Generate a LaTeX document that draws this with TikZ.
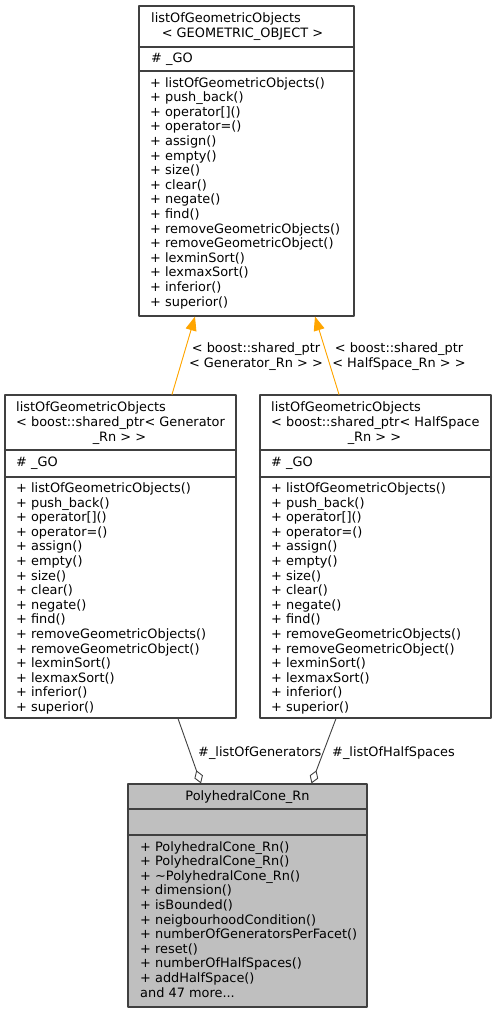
\documentclass[tikz,border=0pt]{standalone}
\usepackage{fontspec}
\setmainfont{DejaVu Sans}
\usetikzlibrary{arrows.meta}
\definecolor{boxline}{HTML}{404040}
\definecolor{conegray}{HTML}{BFBFBF}
\definecolor{inhorange}{HTML}{FFA500}
% members shared by the three template boxes
\newcommand\gomembers{+ listOfGeometricObjects()\\+ push\_back()\\+ operator[]()\\+ operator=()\\+ assign()\\+ empty()\\+ size()\\+ clear()\\+ negate()\\+ find()\\+ removeGeometricObjects()\\+ removeGeometricObject()\\+ lexminSort()\\+ lexmaxSort()\\+ inferior()\\+ superior()}
\begin{document}
\begin{tikzpicture}
    [x=1pt,y=-1pt,line cap=round,line join=round,
     font=\fontsize{12.9}{14.6}\selectfont,
     classbox/.style={draw=boxline,line width=1.1pt,inner sep=0pt,fill=white},
     memb/.style={anchor=base west,align=left,inner sep=0pt},
     ctext/.style={anchor=base,align=center,inner sep=0pt},
     inherit/.style={-{Triangle[length=14pt,width=11pt]},draw=inhorange,fill=inhorange,line width=0.9pt},
     aggr/.style={{Diamond[open,length=14pt,width=9pt]}-,draw=boxline,fill=white,line width=0.9pt}]
\useasboundingbox (0,0) rectangle (496,1013);
%the class boxes
\node[classbox,minimum width=215pt,minimum height=310pt] (base) at (246.5,161) {};
\node[classbox,minimum width=231pt,minimum height=323pt] (gen) at (120.5,556.5) {};
\node[classbox,minimum width=231pt,minimum height=323pt] (half) at (375.5,556.5) {};
\node[classbox,fill=conegray,minimum width=239pt,minimum height=223pt] (cone) at (247.5,895.5) {};
%compartment lines
\draw[boxline,line width=1.1pt] (base.west |- 0,47) -- (base.east |- 0,47);
\draw[boxline,line width=1.1pt] (base.west |- 0,71) -- (base.east |- 0,71);
\draw[boxline,line width=1.1pt] (gen.west |- 0,450) -- (gen.east |- 0,450);
\draw[boxline,line width=1.1pt] (gen.west |- 0,477) -- (gen.east |- 0,477);
\draw[boxline,line width=1.1pt] (half.west |- 0,450) -- (half.east |- 0,450);
\draw[boxline,line width=1.1pt] (half.west |- 0,477) -- (half.east |- 0,477);
\draw[boxline,line width=1.1pt] (cone.west |- 0,809) -- (cone.east |- 0,809);
\draw[boxline,line width=1.1pt] (cone.west |- 0,835) -- (cone.east |- 0,835);
%texts of listOfGeometricObjects< GEOMETRIC_OBJECT >
%(multi-line nodes sit on their last baseline)
\node[memb] (basetitle) at (151,22.7) {listOfGeometricObjects};
\node[ctext] (basetype) at (242.5,37.5) {< GEOMETRIC\_OBJECT >};
\node[memb] (baseattr) at (151,62.7) {\# \_GO};
\node[memb] (baseops) at (150,306) {\gomembers};
%texts of the Generator_Rn box
\node[memb] (gentitle) at (16,426.3) {listOfGeometricObjects\\< boost::shared\_ptr< Generator};
\node[ctext] (gentype) at (119.5,441) {\_Rn > >};
\node[memb] (genattr) at (16,466) {\# \_GO};
\node[memb] (genops) at (16,711.5) {\gomembers};
%texts of the HalfSpace_Rn box
\node[memb] (halftitle) at (271,426.3) {listOfGeometricObjects\\< boost::shared\_ptr< HalfSpace};
\node[ctext] (halftype) at (374.5,441) {\_Rn > >};
\node[memb] (halfattr) at (271,466) {\# \_GO};
\node[memb] (halfops) at (271,711.5) {\gomembers};
%texts of PolyhedralCone_Rn
\node[ctext] (conetitle) at (247.5,800.7) {PolyhedralCone\_Rn};
\node[memb] (coneops) at (140,997) {+ PolyhedralCone\_Rn()\\+ PolyhedralCone\_Rn()\\+ \textasciitilde PolyhedralCone\_Rn()\\+ dimension()\\+ isBounded()\\+ neigbourhoodCondition()\\+ numberOfGeneratorsPerFacet()\\+ reset()\\+ numberOfHalfSpaces()\\+ addHalfSpace()\\and 47 more...};
%template inheritance
\draw[inherit] ([xshift=51.5pt]gen.north) -- ([xshift=-51.5pt]base.south);
\draw[inherit] ([xshift=-36.5pt]half.north) -- ([xshift=68.5pt]base.south);
\node[ctext] (genlabel) at (256,367) {< boost::shared\_ptr\\< Generator\_Rn > >};
\node[ctext] (halflabel) at (399,367) {< boost::shared\_ptr\\< HalfSpace\_Rn > >};
%aggregation
\draw[aggr] ([xshift=-46.5pt]cone.north) -- ([xshift=57.5pt]gen.south);
\draw[aggr] ([xshift=64pt]cone.north) -- ([xshift=-39.5pt]half.south);
\node[memb] (genrole) at (198,756.5) {\#\_listOfGenerators};
\node[memb] (halfrole) at (332,756.5) {\#\_listOfHalfSpaces};
\end{tikzpicture}
\end{document}
